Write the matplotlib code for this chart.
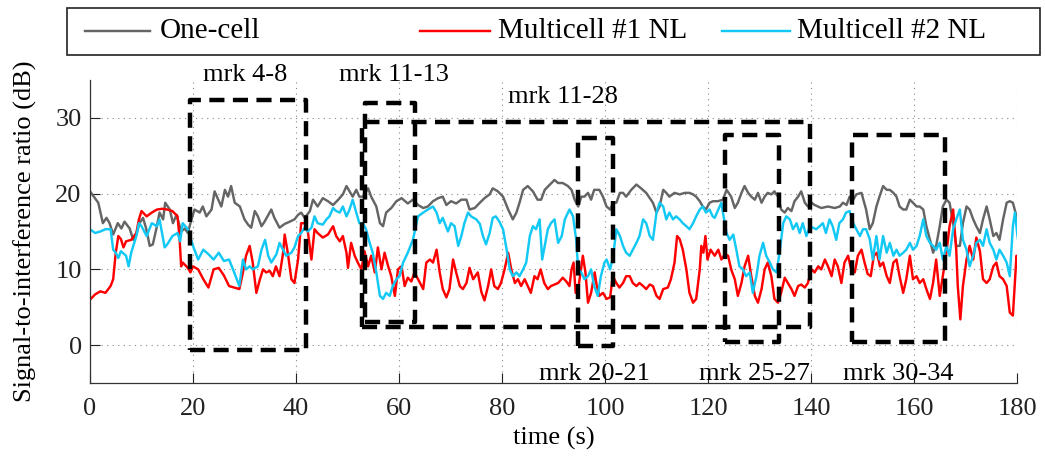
import matplotlib
matplotlib.use("Agg")
import matplotlib.pyplot as plt
from matplotlib.lines import Line2D
from matplotlib.patches import Rectangle

plt.rcParams['font.family'] = ['Liberation Serif', 'DejaVu Serif']

# ---- SIR traces (time in s, SIR in dB) ----
t_one = [0, 1.6, 2.5, 3.2, 3.8, 4.5, 5.4, 6.1, 6.7, 7.7, 8.4, 9.0, 9.6, 10.3, 10.9, 11.6, 12.2, 12.9, 13.5, 14.2,
         14.6, 15.5, 16.1, 16.8, 17.7, 18.4, 19.0, 19.7, 20.3, 21.3, 21.9, 22.6, 23.6, 24.2, 24.9, 25.5, 26.2, 26.8,
         27.4, 28.1, 29.1, 30.0, 30.7, 31.3, 32.0, 32.6, 33.3, 33.9, 35.2, 35.8, 36.8, 37.8, 38.8, 39.7, 40.4, 41.0,
         41.7, 42.7, 43.3, 44.2, 45.2, 46.2, 47.2, 48.2, 49.1, 49.8, 50.4, 51.0, 51.7, 52.3, 53.0, 54.0, 54.6, 55.6,
         56.3, 56.9, 57.5, 58.5, 59.5, 60.5, 61.7, 62.7, 63.7, 64.7, 65.6, 66.6, 67.6, 68.5, 69.2, 70.1, 71.1, 72.1,
         73.1, 73.7, 74.7, 75.7, 76.6, 77.6, 78.2, 79.2, 80.2, 81.2, 82.1, 82.8, 83.4, 84.1, 85.0, 86.0, 86.9, 87.6,
         88.3, 89.3, 90.2, 90.9, 91.8, 92.8, 93.5, 94.1, 94.8, 95.4, 96.0, 96.7, 97.3, 97.9, 98.9, 99.6, 100.3, 101.0,
         101.6, 102.2, 102.9, 103.5, 104.1, 105.1, 106.1, 107.0, 108.0, 108.7, 109.3, 110.0, 110.6, 111.3, 111.9,
         112.5, 113.5, 114.5, 115.5, 116.4, 117.1, 117.7, 118.4, 119.0, 119.6, 120.3, 121.0, 121.9, 122.9, 123.6,
         124.5, 125.2, 125.8, 126.5, 127.1, 127.8, 128.4, 129.1, 129.7, 130.4, 131.0, 131.6, 132.3, 132.9, 133.6,
         134.2, 134.9, 135.5, 136.2, 136.8, 137.5, 138.1, 138.8, 139.4, 140.1, 140.7, 142.0, 143.3, 144.6, 145.6,
         146.2, 146.9, 147.5, 148.2, 148.8, 149.8, 150.7, 151.4, 152.0, 152.7, 153.3, 154.0, 154.7, 155.3, 156.0,
         156.6, 157.2, 157.9, 158.5, 159.2, 159.8, 160.5, 161.1, 161.8, 162.4, 163.1, 163.7, 164.3, 165.0, 165.6,
         166.3, 166.9, 167.6, 168.2, 168.9, 169.5, 170.2, 170.8, 171.5, 172.1, 172.8, 173.4, 174.1, 174.7, 175.4,
         176.0, 176.6, 177.3, 178.0, 178.6, 179.2, 179.9, 180.5]
snr_one = [20.3, 18.8, 16.1, 16.8, 16.1, 14.6, 16.1, 15.4, 16.3, 15.4, 13.9, 14.6, 16.1, 16.8, 15.4, 13.1, 13.3, 15.4,
           17.5, 16.6, 18.8, 17.9, 16.1, 17.2, 15.0, 15.4, 14.8, 16.6, 17.9, 17.5, 18.3, 17.0, 17.9, 20.3, 19.2, 18.3,
           20.5, 19.6, 21.0, 18.8, 18.3, 16.6, 15.9, 15.5, 17.7, 17.0, 15.7, 16.3, 17.9, 16.8, 15.5, 16.0, 16.3, 16.6,
           17.2, 17.5, 16.8, 17.7, 19.2, 18.3, 19.4, 19.0, 18.5, 19.2, 19.9, 21.0, 20.3, 19.6, 20.5, 19.6, 19.6, 20.7,
           19.6, 18.3, 16.1, 15.7, 17.5, 18.1, 19.0, 19.4, 18.7, 19.2, 18.5, 18.1, 18.3, 19.0, 19.4, 19.6, 18.5, 19.0,
           18.7, 19.2, 19.2, 17.9, 18.1, 18.8, 19.4, 19.9, 20.7, 20.3, 19.6, 17.9, 16.6, 17.5, 18.8, 20.5, 21.0, 20.3,
           19.2, 19.2, 20.5, 21.2, 21.8, 21.4, 21.4, 21.0, 20.5, 19.2, 18.3, 19.6, 19.6, 20.1, 19.2, 20.5, 20.5, 19.6,
           18.3, 17.9, 18.8, 18.8, 20.1, 20.1, 19.6, 20.5, 21.2, 20.7, 20.1, 19.4, 18.8, 17.5, 18.3, 20.5, 20.1, 19.6,
           20.1, 19.9, 20.1, 20.1, 19.9, 19.6, 19.0, 18.3, 17.9, 18.8, 19.0, 19.0, 19.2, 20.5, 19.6, 18.1, 18.8, 20.1,
           21.0, 20.1, 19.6, 19.2, 20.1, 18.8, 19.6, 20.1, 19.9, 20.3, 19.6, 17.9, 17.5, 18.1, 17.7, 19.0, 19.6, 20.3,
           18.8, 18.3, 18.8, 18.5, 18.1, 18.3, 18.1, 18.3, 18.8, 18.5, 19.6, 19.2, 19.9, 20.1, 17.9, 15.3, 16.1, 18.3,
           19.6, 21.0, 20.5, 20.5, 20.1, 19.6, 18.3, 17.9, 17.9, 19.2, 18.8, 18.3, 18.3, 17.9, 15.7, 13.9, 12.2, 13.1,
           15.7, 18.3, 19.2, 18.8, 16.1, 13.1, 13.1, 16.1, 18.3, 17.9, 16.6, 15.7, 14.8, 16.6, 18.3, 16.6, 14.4, 14.8,
           13.9, 16.6, 18.8, 19.0, 18.8, 17.0, 13.1]

t_mc1 = [0, 1, 2, 3, 4, 4.5, 5.0, 5.5, 6.0, 6.5, 7.0, 8.0, 9.0, 9.5, 10.0, 11.0, 12.0, 13.0, 14.0, 15.0, 16.0, 17.0,
         17.4, 17.7, 18.0, 19.0, 19.5, 20.0, 21.0, 22.0, 23.0, 24.0, 25.0, 26.0, 27.0, 28.0, 29.0, 29.7, 30.3, 31.0,
         31.6, 32.3, 33.0, 33.6, 34.2, 34.9, 35.5, 36.1, 36.8, 37.5, 37.8, 38.4, 39.1, 39.7, 40.4, 41.0, 41.7, 42.3,
         43.0, 43.6, 44.2, 45.2, 46.2, 47.2, 47.8, 48.5, 49.1, 49.8, 50.1, 50.7, 51.4, 52.0, 52.7, 53.3, 54.0, 54.6,
         55.3, 55.9, 56.6, 57.2, 57.9, 58.5, 59.2, 59.8, 60.5, 61.1, 61.7, 62.4, 63.0, 63.7, 64.7, 65.3, 66.0, 66.6,
         67.3, 67.9, 68.5, 69.2, 69.8, 70.5, 71.1, 71.8, 72.4, 73.1, 73.7, 74.4, 75.3, 76.0, 76.6, 77.3, 77.9, 78.5,
         79.2, 79.8, 80.5, 81.2, 81.8, 82.5, 83.1, 83.7, 84.4, 85.0, 85.6, 86.3, 86.9, 87.5, 88.2, 88.9, 89.5, 90.2,
         90.9, 91.8, 92.5, 93.1, 93.5, 93.9, 94.3, 94.8, 95.4, 95.7, 96.2, 96.7, 97.3, 98.0, 98.4, 98.9, 99.6, 100.3,
         101.0, 101.5, 102.2, 102.8, 103.5, 104.1, 104.8, 105.4, 106.1, 106.7, 107.4, 108.0, 108.7, 109.3, 110.0,
         110.6, 111.3, 112.2, 112.8, 113.5, 114.0, 114.5, 115.1, 115.8, 116.4, 117.1, 117.7, 118.4, 118.7, 119.1,
         119.5, 119.9, 120.5, 121.3, 122.0, 122.6, 123.3, 123.9, 124.5, 125.2, 125.8, 126.5, 127.1, 127.8, 128.4,
         129.1, 129.7, 130.4, 131.0, 131.6, 132.3, 132.9, 133.6, 134.2, 134.9, 135.5, 136.2, 136.8, 137.5, 138.1,
         138.8, 139.4, 140.1, 140.7, 141.4, 142.0, 142.7, 143.3, 144.0, 144.6, 145.2, 145.9, 146.5, 147.2, 147.8,
         148.5, 149.1, 149.8, 150.4, 151.0, 151.6, 152.2, 152.8, 153.4, 154.0, 154.7, 155.3, 156.0, 156.6, 157.2,
         157.9, 158.5, 159.2, 159.8, 160.5, 161.1, 161.8, 162.4, 163.1, 163.7, 164.3, 165.0, 165.6, 166.3, 166.9,
         167.6, 168.2, 168.5, 169.0, 169.5, 170.2, 170.8, 171.5, 172.1, 172.8, 173.4, 174.1, 174.7, 175.4, 176.0,
         176.6, 177.3, 178.0, 178.6, 179.2, 179.9, 180.2, 180.5]
snr_mc1 = [6.0, 6.7, 7.1, 6.9, 7.8, 8.7, 12.2, 14.4, 14.0, 12.9, 13.7, 13.9, 14.8, 16.6, 17.7, 17.0, 17.5, 17.9, 18.0,
           17.9, 17.7, 17.0, 14.0, 10.4, 10.9, 10.2, 9.6, 10.4, 10.0, 8.7, 7.6, 10.0, 10.2, 9.2, 7.8, 7.6, 7.4, 9.6,
           11.8, 13.1, 10.9, 6.9, 8.7, 10.0, 9.6, 9.8, 9.1, 10.4, 9.1, 12.2, 14.6, 12.2, 8.7, 8.2, 11.3, 16.1, 16.1,
           15.0, 11.3, 15.3, 14.8, 14.2, 14.6, 15.7, 14.4, 13.7, 14.4, 12.2, 10.2, 13.5, 11.8, 10.9, 10.0, 12.4, 10.4,
           11.8, 9.6, 12.9, 10.0, 12.2, 10.4, 9.1, 6.5, 10.0, 10.4, 7.8, 8.9, 8.4, 9.6, 8.7, 7.4, 10.9, 11.3, 10.9,
           12.6, 9.6, 7.4, 6.3, 7.4, 11.3, 9.6, 7.8, 7.4, 8.2, 10.2, 8.7, 9.6, 7.0, 5.9, 7.8, 10.0, 7.8, 7.4, 8.2,
           10.0, 12.2, 10.0, 8.2, 8.7, 7.8, 8.7, 7.8, 6.9, 9.1, 8.7, 10.0, 8.2, 7.4, 7.8, 8.0, 8.2, 8.9, 8.4, 7.8,
           10.0, 10.9, 6.9, 7.4, 10.4, 11.8, 9.6, 5.6, 6.9, 9.6, 7.8, 6.5, 6.9, 6.1, 6.3, 9.1, 8.2, 7.6, 8.2, 9.1,
           9.1, 8.2, 7.8, 8.2, 7.8, 7.4, 8.0, 7.8, 6.5, 6.1, 7.4, 7.6, 8.7, 10.9, 14.4, 14.0, 12.6, 10.0, 6.9, 5.6,
           6.1, 10.0, 13.1, 12.2, 14.4, 11.3, 12.6, 11.8, 12.6, 11.3, 12.0, 11.8, 10.0, 8.7, 6.5, 8.2, 10.4, 11.8,
           9.1, 6.5, 5.6, 7.4, 10.0, 10.9, 9.1, 6.1, 5.6, 6.9, 8.9, 8.2, 7.4, 6.5, 7.8, 8.0, 7.6, 8.2, 10.0, 9.6,
           10.4, 10.0, 11.3, 10.4, 9.1, 11.3, 10.4, 8.2, 10.9, 11.8, 10.0, 9.6, 11.8, 12.6, 10.9, 9.4, 9.1, 11.8,
           12.2, 10.4, 10.9, 9.1, 8.2, 10.9, 11.3, 9.1, 6.9, 8.7, 11.8, 8.7, 9.1, 8.2, 8.7, 7.4, 6.1, 8.2, 11.3, 6.5,
           9.1, 12.2, 15.7, 17.9, 12.6, 7.8, 3.4, 7.8, 11.3, 13.1, 11.3, 14.2, 12.4, 8.7, 8.2, 8.7, 10.4, 10.9, 9.1,
           8.7, 7.8, 4.3, 3.9, 11.8, 10.4, 7.6]

t_mc2 = [0, 1, 2, 3, 4, 4.5, 5.0, 5.5, 6.0, 7.0, 7.5, 8.0, 9.0, 9.5, 10.0, 11.0, 12.0, 13.0, 13.5, 14.5, 15.0, 16.0,
         17.0, 17.5, 18.0, 19.0, 20.0, 21.0, 22.0, 23.0, 24.0, 25.0, 26.0, 27.0, 28.0, 29.0, 29.7, 30.3, 31.0, 31.6,
         32.6, 33.3, 34.0, 34.6, 35.2, 36.2, 36.8, 37.5, 38.1, 39.1, 39.7, 40.4, 41.0, 41.7, 42.3, 43.0, 43.6, 44.2,
         45.2, 45.9, 46.5, 47.2, 47.8, 48.5, 49.1, 49.8, 50.4, 51.0, 51.7, 52.3, 53.0, 53.6, 54.3, 54.9, 55.6, 56.3,
         56.9, 57.5, 58.2, 58.8, 59.5, 60.1, 60.8, 61.7, 62.7, 63.7, 64.7, 65.6, 66.6, 67.3, 67.9, 68.5, 69.5, 70.1,
         70.8, 71.5, 72.1, 72.7, 73.4, 74.0, 75.0, 75.7, 76.3, 76.9, 77.6, 78.2, 78.8, 79.5, 80.2, 80.9, 81.5, 82.1,
         82.8, 83.4, 84.1, 84.7, 85.4, 86.0, 86.6, 87.3, 87.8, 88.3, 88.9, 89.5, 90.2, 90.9, 91.6, 92.2, 93.1, 93.8,
         94.4, 94.8, 95.4, 96.0, 96.7, 97.3, 97.9, 98.6, 99.2, 99.9, 100.3, 101.0, 101.6, 102.2, 102.9, 103.5,
         104.1, 104.8, 105.4, 106.1, 106.7, 107.4, 108.0, 108.7, 109.3, 110.0, 110.6, 111.3, 111.9, 112.5, 113.2,
         113.8, 114.5, 115.1, 115.8, 116.4, 117.1, 117.7, 118.4, 119.0, 119.6, 120.3, 120.9, 121.3, 122.0, 122.6,
         122.9, 123.6, 124.2, 124.9, 125.5, 126.1, 126.8, 127.4, 128.1, 128.7, 129.4, 130.0, 130.7, 131.3, 132.0,
         132.6, 133.3, 133.9, 134.6, 135.2, 135.9, 136.5, 137.2, 137.8, 138.4, 139.1, 139.8, 140.4, 141.0, 141.7,
         142.3, 142.9, 143.6, 144.2, 144.9, 145.5, 146.2, 146.8, 147.5, 148.2, 148.8, 149.5, 150.1, 150.7, 151.4,
         152.0, 152.7, 153.3, 154.0, 154.7, 155.3, 156.0, 156.6, 157.2, 157.9, 158.5, 159.2, 159.8, 160.5, 161.1,
         161.8, 162.4, 163.1, 163.7, 164.3, 165.0, 165.6, 166.3, 166.9, 167.6, 168.2, 168.9, 169.5, 170.2, 170.8,
         171.5, 172.1, 172.8, 173.4, 174.1, 174.7, 175.4, 176.0, 176.6, 177.3, 178.0, 178.6, 179.2, 179.6, 180.1,
         180.5]
snr_mc2 = [15.3, 14.8, 15.0, 15.3, 15.3, 12.6, 12.2, 11.5, 12.4, 11.8, 10.4, 12.2, 14.4, 16.1, 15.7, 14.4, 16.1, 15.7,
           16.6, 12.9, 13.3, 14.4, 14.8, 13.7, 16.1, 15.3, 13.1, 11.3, 12.6, 12.0, 11.3, 12.2, 11.1, 11.3, 9.6, 7.8,
           11.3, 10.0, 10.4, 10.0, 10.4, 12.6, 13.9, 11.8, 10.9, 12.0, 13.5, 12.6, 11.8, 12.2, 12.9, 14.4, 14.8, 15.5,
           15.0, 15.5, 17.0, 16.1, 15.9, 16.6, 17.0, 18.1, 17.7, 17.5, 18.3, 17.0, 17.9, 19.2, 17.5, 16.1, 16.1, 15.3,
           13.5, 12.2, 9.6, 6.5, 6.1, 6.9, 6.5, 7.8, 8.7, 9.1, 10.9, 12.2, 13.9, 17.0, 17.5, 17.9, 18.3, 17.5, 16.1,
           16.8, 15.0, 16.1, 15.7, 13.1, 14.4, 16.1, 17.5, 17.0, 16.6, 16.0, 14.4, 13.3, 14.8, 16.8, 17.0, 16.3, 15.3,
           12.6, 10.0, 9.1, 9.6, 9.1, 10.0, 10.9, 14.4, 15.7, 15.3, 16.6, 11.3, 13.1, 15.3, 16.1, 16.6, 13.5, 14.4,
           16.6, 17.9, 17.0, 13.9, 10.0, 9.6, 8.7, 9.1, 10.0, 7.8, 6.5, 9.1, 10.9, 11.3, 10.0, 11.8, 15.3, 14.4, 13.1,
           12.2, 11.8, 12.6, 13.5, 14.4, 16.6, 16.1, 14.4, 13.9, 17.5, 18.8, 18.3, 16.6, 17.5, 16.6, 17.0, 16.6, 16.1,
           15.7, 15.3, 16.1, 17.0, 17.9, 18.3, 17.5, 17.9, 17.0, 16.8, 17.9, 18.8, 17.5, 14.8, 13.9, 14.6, 12.6, 10.4,
           10.0, 9.1, 9.6, 6.9, 9.1, 11.8, 13.5, 11.8, 10.9, 10.0, 9.6, 12.2, 16.1, 17.0, 16.6, 15.3, 16.1, 14.8,
           16.1, 14.4, 15.7, 15.5, 15.3, 15.7, 16.1, 14.8, 16.6, 15.7, 13.9, 16.1, 16.6, 17.5, 17.7, 16.1, 15.3,
           14.4, 15.3, 15.3, 14.0, 11.3, 14.4, 11.3, 14.4, 12.2, 13.5, 11.8, 12.6, 11.8, 12.2, 12.6, 13.5, 12.6, 13.1,
           14.4, 16.6, 14.4, 13.5, 13.1, 12.6, 13.5, 11.3, 13.1, 11.8, 15.3, 16.6, 17.9, 13.9, 12.6, 10.4, 11.8, 13.5,
           13.9, 13.1, 15.3, 13.5, 12.6, 11.3, 12.6, 11.8, 10.9, 9.1, 15.7, 17.5, 14.4, 12.6]

series_labels = ["One-cell", "Multicell #1 NL", "Multicell #2 NL"]
series_colors = ["#656565", "#ff0000", "#12c8f5"]

# ---- marker intervals: label, t_start, t_end, y_bottom, y_top ----
mark_labels = ["mrk 4-8", "mrk 11-13", "mrk 11-28", "mrk 20-21", "mrk 25-27", "mrk 30-34"]
mark_t0 = [19.4, 53.4, 52.8, 94.8, 123.3, 147.9]
mark_t1 = [41.9, 63.1, 139.8, 101.5, 133.8, 166.0]
mark_y0 = [-0.7, 3.0, 2.4, -0.1, 0.4, 0.4]
mark_y1 = [32.3, 32.0, 29.4, 27.4, 27.8, 27.8]
# label anchor (x in s, y in dB)
mark_lx = [30.1, 59.0, 91.8, 98.0, 129.0, 157.0]
mark_ly = [35.6, 35.6, 32.7, -3.8, -3.8, -3.8]

x_ticks = list(range(0, 181, 20))
y_ticks = [0, 10, 20, 30]

FS = 19

fig = plt.figure(figsize=(10.45, 4.59), dpi=100)
ax = fig.add_axes([90 / 1045, 76 / 459, 927 / 1045, 303 / 459])

for t, v, c in zip([t_one, t_mc1, t_mc2], [snr_one, snr_mc1, snr_mc2], series_colors):
    ax.plot(t, v, color=c, lw=1.75, solid_joinstyle='round')

for lab, a, b, y0, y1, lx, ly in zip(mark_labels, mark_t0, mark_t1, mark_y0, mark_y1, mark_lx, mark_ly):
    ax.plot([a, b, b, a, a], [y0, y0, y1, y1, y0], color='black', lw=3.2,
            dashes=(3.4, 1.9), clip_on=False, zorder=5)
    ax.text(lx, ly, lab, ha='center', va='center', fontsize=FS, clip_on=False, zorder=6)

ax.set_xlim(0, 180)
ax.set_ylim(-5, 35)
ax.set_xticks(x_ticks)
ax.set_yticks(y_ticks)
ax.tick_params(direction='in', length=7, width=0.8, labelsize=FS, pad=11, colors='#222222')
ax.tick_params(axis='y', pad=6)
ax.grid(True, linestyle=(0, (1, 4)), color='#888888', lw=0.8)
for s in ['top', 'right']:
    ax.spines[s].set_visible(False)
for s in ['left', 'bottom']:
    ax.spines[s].set_color('#333333')
    ax.spines[s].set_linewidth(0.9)

ax.set_xlabel("time (s)", fontsize=FS, labelpad=5)
ax.set_ylabel("Signal-to-interference ratio (dB)", fontsize=FS, labelpad=13)

# ---- legend row above the axes ----
box = Rectangle((67 / 1045, 1 - 55 / 459), (1040 - 67) / 1045, 47 / 459, transform=fig.transFigure,
                facecolor='white', edgecolor='#222222', lw=1.2)
fig.patches.append(box)
leg_line_x = [(85, 150), (420, 490), (722, 790)]
leg_text_x = [160, 498, 797]
ly_fig = 1 - 31 / 459
for (a, b), tx, lab, c in zip(leg_line_x, leg_text_x, series_labels, series_colors):
    fig.lines.append(Line2D([a / 1045, b / 1045], [ly_fig, ly_fig], transform=fig.transFigure,
                            color=c, lw=1.75))
    fig.text(tx / 1045, ly_fig, lab, ha='left', va='center', fontsize=FS + 2)

fig.savefig("out.png", dpi=100)
